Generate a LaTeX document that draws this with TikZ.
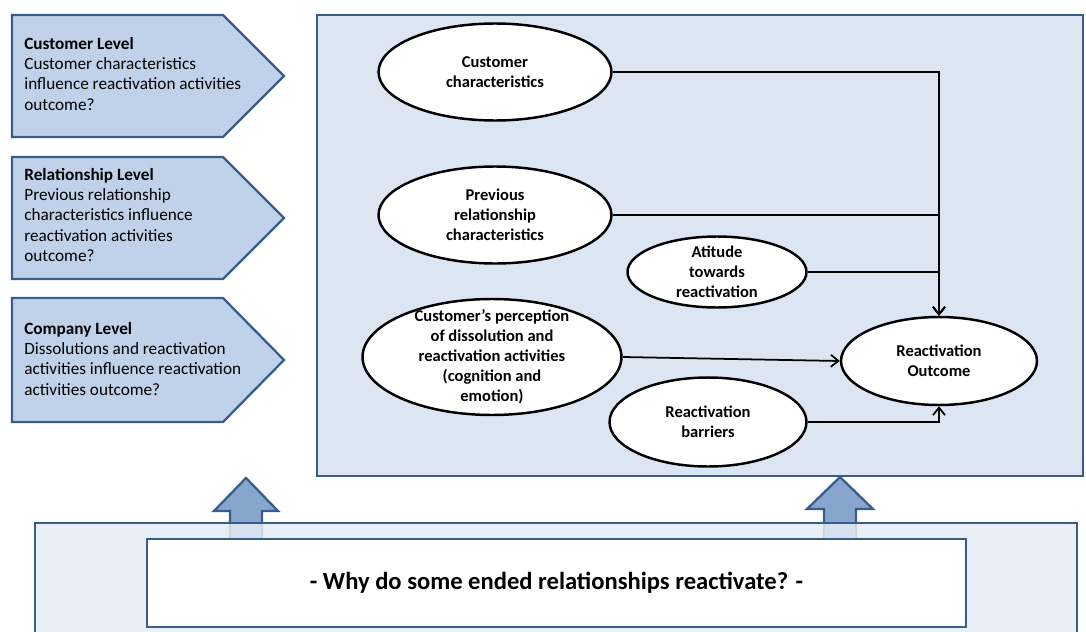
\documentclass[tikz,border=0pt]{standalone}
\usepackage{fontspec}
\setmainfont{Carlito}
\usetikzlibrary{shapes.geometric,arrows.meta}
\definecolor{frame}{RGB}{56,93,138}
\definecolor{levelfill}{RGB}{192,210,233}
\definecolor{modelfill}{RGB}{220,230,242}
\definecolor{basefill}{RGB}{229,236,245}
\definecolor{upfill}{RGB}{135,166,205}

\begin{document}
\begin{tikzpicture}[x=0.02cm,y=-0.02cm,
  every node/.style={font=\fontsize{9.8}{11.4}\selectfont},
  level/.style={draw=frame,line width=1.3pt,fill=levelfill},
  leveltext/.style={anchor=west,align=left,inner sep=0pt},
  factor/.style={ellipse,draw,line width=1.4pt,fill=white,align=center,inner sep=0pt,
    font=\fontsize{9.4}{11.4}\selectfont\bfseries},
  conn/.style={line width=1pt,-{Straight Barb[length=1.5mm,width=2.4mm]}},
  upblock/.style={draw=frame,line width=1.3pt,fill=upfill}]
\useasboundingbox (0,0) rectangle (1086,632);

\draw[level] (12,15) -- (223,15) -- (284,76) -- (223,137) -- (12,137) -- cycle;
\draw[level] (12,157) -- (223,157) -- (284,218) -- (223,279) -- (12,279) -- cycle;
\draw[level] (12,298) -- (223,298) -- (284,360) -- (223,422) -- (12,422) -- cycle;
\node[leveltext] (custlevel) at (24,74) {\textbf{Customer Level}\\Customer characteristics\\influence reactivation activities\\outcome?};
\node[leveltext] (rellevel) at (24,215) {\textbf{Relationship Level}\\Previous relationship\\characteristics influence\\reactivation activities\\outcome?};
\node[leveltext] (complevel) at (24,359) {\textbf{Company Level}\\Dissolutions and reactivation\\activities influence reactivation\\activities outcome?};

\draw[draw=frame,line width=1.3pt,fill=modelfill] (317,15) rectangle (1083,476);

\node[factor,minimum width=4.66cm,minimum height=1.94cm] (cust) at (495,72) {Customer\\characteristics};
\node[factor,minimum width=4.66cm,minimum height=1.94cm] (prev) at (495,215) {Previous\\relationship\\characteristics};
\node[factor,minimum width=3.58cm,minimum height=1.42cm,inner ysep=-0.07cm] (att) at (717,272) {Atitude\\towards\\reactivation};
\node[factor,minimum width=5.18cm,minimum height=2.32cm,inner ysep=-0.15cm] (perc) at (492,357) {Customer’s perception\\of dissolution and\\reactivation activities\\(cognition and\\emotion)};
\node[factor,minimum width=3.94cm,minimum height=1.78cm] (bar) at (708,422) {Reactivation\\barriers};
\node[factor,minimum width=3.92cm,minimum height=1.76cm] (out) at (939,361) {Reactivation\\Outcome};

\draw[conn] (cust.east) -| (out.north);
\draw[conn] (prev.east) -| (out.north);
\draw[conn] (att.east) -| (out.north);
\draw[conn] (perc.east) -- (out.west);
\draw[conn] (bar.east) -| (out.south);

\draw[upblock] (230,539) -- (230,511) -- (214,511) -- (246,478) -- (278,511) -- (262,511) -- (262,539);
\draw[upblock] (824,539) -- (824,509) -- (807,509) -- (840,477) -- (873,509) -- (856,509) -- (856,539);
\fill[basefill,opacity=0.85] (35,523) rectangle (1077,632);
\draw[frame,line width=1.3pt] (35,632) -- (35,523) -- (1077,523) -- (1077,632);
\node[draw=frame,line width=1.3pt,fill=white,minimum width=16.38cm,minimum height=1.76cm,
  font=\fontsize{14}{17}\selectfont\bfseries] (question) at (556.5,583) {- Why do some ended relationships reactivate? -};
\end{tikzpicture}
\end{document}
